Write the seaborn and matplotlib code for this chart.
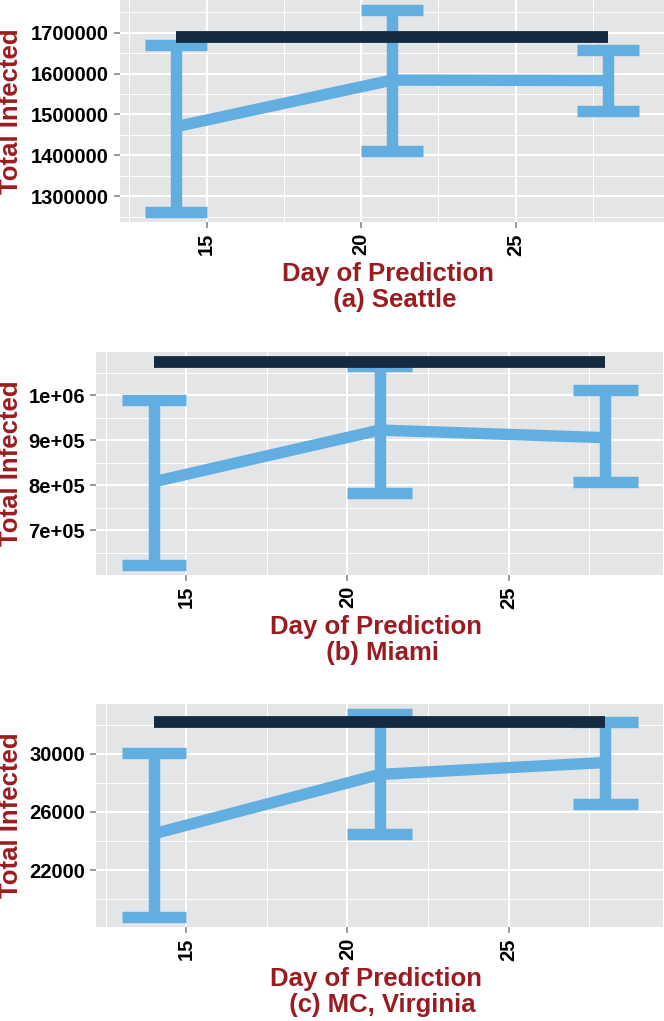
import numpy as np
import pandas as pd
import matplotlib
matplotlib.use("Agg")
import matplotlib.pyplot as plt
from matplotlib.ticker import FixedLocator
import seaborn as sns

# ---------------- data ----------------
days = [14, 21, 28]
x_ticks = [15, 20, 25]
x_minor = [12.5, 17.5, 22.5, 27.5]

seattle_mean = [1470000, 1584000, 1583000]
seattle_low = [1262000, 1410000, 1508000]
seattle_high = [1670000, 1755000, 1657000]
seattle_truth = 1690000
seattle_yticks = [1300000, 1400000, 1500000, 1600000, 1700000]
seattle_ylabels = ["1300000", "1400000", "1500000", "1600000", "1700000"]
seattle_yminor = [1250000, 1350000, 1450000, 1550000, 1650000, 1750000]

miami_mean = [808000, 923000, 906000]
miami_low = [623000, 784000, 808000]
miami_high = [989000, 1066000, 1012000]
miami_truth = 1073500
miami_yticks = [700000, 800000, 900000, 1000000]
miami_ylabels = ["7e+05", "8e+05", "9e+05", "1e+06"]
miami_yminor = [650000, 750000, 850000, 950000, 1050000]

mc_mean = [24500, 28580, 29400]
mc_low = [18780, 24500, 26580]
mc_high = [30030, 32730, 32165]
mc_truth = 32165
mc_yticks = [22000, 26000, 30000]
mc_ylabels = ["22000", "26000", "30000"]
mc_yminor = [20000, 24000, 28000, 32000]

titles = ["Day of Prediction\n  (a) Seattle",
          "Day of Prediction\n  (b) Miami",
          "Day of Prediction\n  (c) MC, Virginia"]
ylabel = "Total Infected"

# ---------------- style ----------------
sns.set_theme(style="darkgrid")
plt.rcParams["font.family"] = ["Liberation Sans", "DejaVu Sans"]

BLUE = "#62AEE0"
NAVY = "#142A40"
RED = "#9B1C20"
BG = "#E4E5E7"
TICK = "#7F7F7F"
LW = 8.2
CAP_HALF = 1.0

W, H = 664, 1021
fig = plt.figure(figsize=(W / 100, H / 100), dpi=100)


def rect(l, t, w, h):
    return [l / W, 1 - (t + h) / H, w / W, h / H]


panels = [
    dict(rect=rect(120, 0, 544, 222), mean=seattle_mean, low=seattle_low,
         high=seattle_high, truth=seattle_truth, yt=seattle_yticks,
         yl=seattle_ylabels, ym=seattle_yminor, left=120, w=544, h=222),
    dict(rect=rect(96, 352.3, 567.3, 222.7), mean=miami_mean, low=miami_low,
         high=miami_high, truth=miami_truth, yt=miami_yticks,
         yl=miami_ylabels, ym=miami_yminor, left=96, w=567.3, h=222.7),
    dict(rect=rect(96, 704, 567.3, 223), mean=mc_mean, low=mc_low,
         high=mc_high, truth=mc_truth, yt=mc_yticks,
         yl=mc_ylabels, ym=mc_yminor, left=96, w=567.3, h=223),
]

for i, p in enumerate(panels):
    ax = fig.add_axes(p["rect"])
    ax.set_facecolor(BG)
    df = pd.DataFrame({"day": days, "mean": p["mean"],
                       "low": p["low"], "high": p["high"]})

    # mean line
    sns.lineplot(data=df, x="day", y="mean", ax=ax, color=BLUE,
                 linewidth=LW, zorder=3)
    for ln in ax.get_lines():
        ln.set_solid_capstyle("butt")
        ln.set_solid_joinstyle("round")

    # error bars
    ax.vlines(df["day"], df["low"], df["high"], colors=BLUE, linewidth=LW,
              capstyle="butt", zorder=3)
    ax.hlines(df["low"], df["day"] - CAP_HALF, df["day"] + CAP_HALF,
              colors=BLUE, linewidth=LW, capstyle="butt", zorder=3)
    ax.hlines(df["high"], df["day"] - CAP_HALF, df["day"] + CAP_HALF,
              colors=BLUE, linewidth=LW, capstyle="butt", zorder=3)

    # truth line
    ax.hlines([p["truth"]], [min(days)], [max(days)], colors=NAVY,
              linewidth=LW + 0.3, capstyle="butt", zorder=4)

    # limits (5% expansion like ggplot)
    xlo, xhi = min(days) - CAP_HALF, max(days) + CAP_HALF
    xpad = 0.05 * (xhi - xlo)
    ax.set_xlim(xlo - xpad, xhi + xpad)
    yvals = list(p["low"]) + list(p["high"]) + [p["truth"]]
    ylo, yhi = min(yvals), max(yvals)
    ypad = 0.05 * (yhi - ylo)
    ax.set_ylim(ylo - ypad, yhi + ypad)

    # ticks
    ax.xaxis.set_major_locator(FixedLocator(x_ticks))
    ax.xaxis.set_minor_locator(FixedLocator(x_minor))
    ax.set_xticklabels([str(t) for t in x_ticks], rotation=90,
                       fontsize=14.5, fontweight="bold", color="black")
    ax.yaxis.set_major_locator(FixedLocator(p["yt"]))
    ax.yaxis.set_minor_locator(FixedLocator(p["ym"]))
    ax.set_yticklabels(p["yl"], fontsize=14.5, fontweight="bold",
                       color="black")
    ax.tick_params(axis="both", which="major", length=4, width=1.1,
                   color=TICK, pad=4, bottom=True, left=True)
    ax.tick_params(axis="both", which="minor", length=0)

    ax.grid(which="major", color="white", linewidth=1.5)
    ax.grid(which="minor", color="white", linewidth=0.7)
    ax.set_axisbelow(True)
    for s in ax.spines.values():
        s.set_visible(False)

    # labels
    ax.set_xlabel(titles[i], fontsize=18.5, fontweight="bold", color=RED,
                  linespacing=1.12)
    ax.xaxis.label.set_va("top")
    ax.xaxis.set_label_coords(0.493, -40 / p["h"])
    ax.set_ylabel(ylabel, fontsize=18.5, fontweight="bold", color=RED)
    ax.yaxis.label.set_va("center")
    ax.yaxis.set_label_coords((11 - p["left"]) / p["w"], 0.5)

fig.savefig("out.png", dpi=100, facecolor="white")
